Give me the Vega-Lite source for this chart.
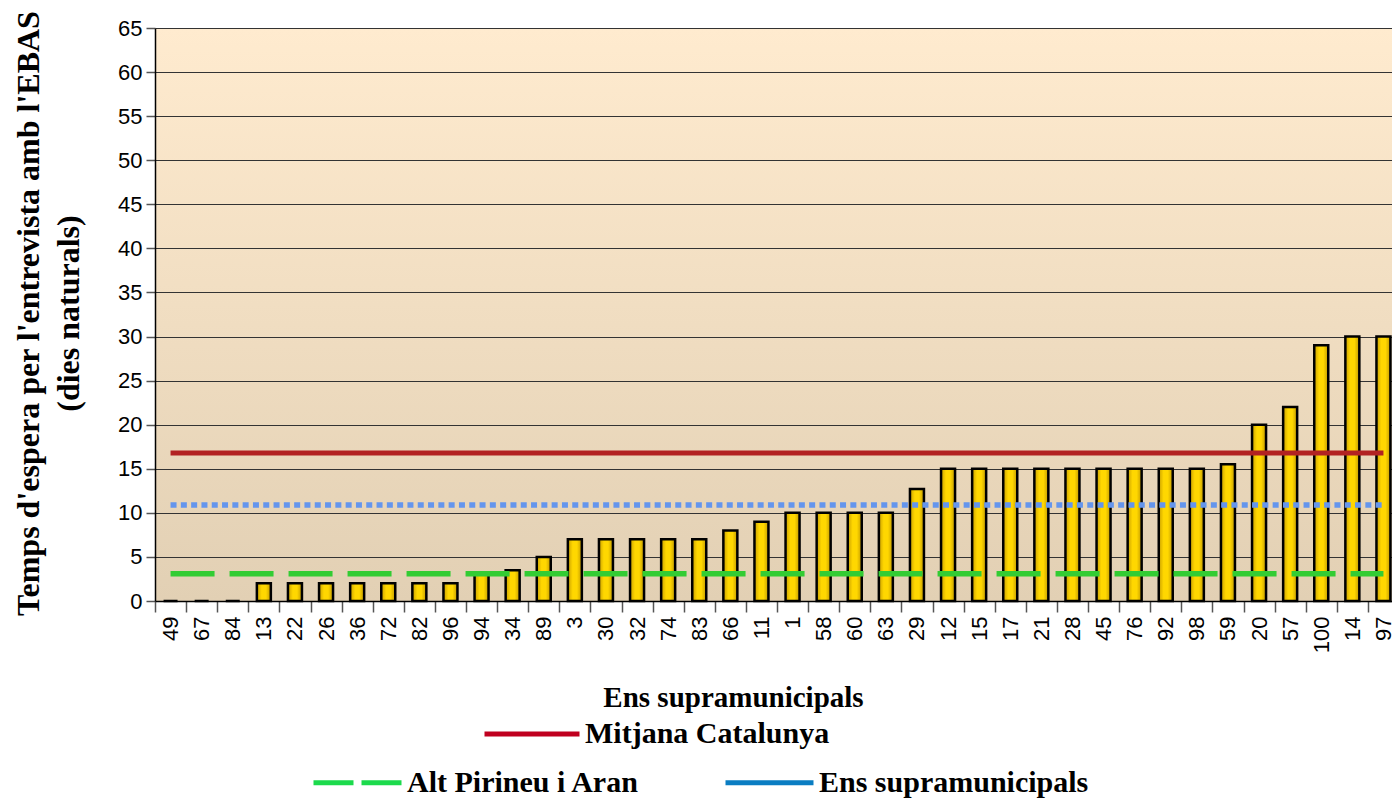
{
  "$schema": "https://vega.github.io/schema/vega-lite/v6.json",
  "autosize": "none",
  "width": 1244,
  "height": 573,
  "padding": {"left": 155, "top": 28, "right": 0, "bottom": 197},
  "background": "white",
  "config": {
    "view": {"stroke": null, "fill": {"gradient": "linear", "x1": 0, "y1": 0, "x2": 0, "y2": 1, "stops": [{"offset": 0, "color": "#FFEBCF"}, {"offset": 1, "color": "#E2D0B4"}]}},
    "axis": {"labelFont": "Liberation Sans", "labelFontSize": 22, "labelColor": "#000", "titleFont": "Liberation Serif", "titleFontWeight": "bold", "titleColor": "#000", "domainColor": "#000", "domainWidth": 1.5, "tickColor": "#555", "tickWidth": 1.5},
    "legend": {"labelFont": "Liberation Serif", "labelFontWeight": "bold", "labelFontSize": 30, "labelColor": "#000", "padding": 0, "symbolType": "stroke", "symbolStrokeWidth": 5, "symbolSize": 7744, "labelOffset": 3, "titlePadding": 0, "labelLimit": 400}
  },
  "datasets": {
    "bars": [
      {"ens": "49", "dies": 0}, {"ens": "67", "dies": 0}, {"ens": "84", "dies": 0},
      {"ens": "13", "dies": 2}, {"ens": "22", "dies": 2}, {"ens": "26", "dies": 2},
      {"ens": "36", "dies": 2}, {"ens": "72", "dies": 2}, {"ens": "82", "dies": 2},
      {"ens": "96", "dies": 2}, {"ens": "94", "dies": 3}, {"ens": "34", "dies": 3.5},
      {"ens": "89", "dies": 5}, {"ens": "3", "dies": 7}, {"ens": "30", "dies": 7},
      {"ens": "32", "dies": 7}, {"ens": "74", "dies": 7}, {"ens": "83", "dies": 7},
      {"ens": "66", "dies": 8}, {"ens": "11", "dies": 9}, {"ens": "1", "dies": 10},
      {"ens": "58", "dies": 10}, {"ens": "60", "dies": 10}, {"ens": "63", "dies": 10},
      {"ens": "29", "dies": 12.7}, {"ens": "12", "dies": 15}, {"ens": "15", "dies": 15},
      {"ens": "17", "dies": 15}, {"ens": "21", "dies": 15}, {"ens": "28", "dies": 15},
      {"ens": "45", "dies": 15}, {"ens": "76", "dies": 15}, {"ens": "92", "dies": 15},
      {"ens": "98", "dies": 15}, {"ens": "59", "dies": 15.5}, {"ens": "20", "dies": 20},
      {"ens": "57", "dies": 22}, {"ens": "100", "dies": 29}, {"ens": "14", "dies": 30},
      {"ens": "97", "dies": 30}
    ],
    "lines": [
      {"serie": "Mitjana Catalunya", "ens": "49", "dies": 16.8},
      {"serie": "Mitjana Catalunya", "ens": "97", "dies": 16.8},
      {"serie": "Alt Pirineu i Aran", "ens": "49", "dies": 3.1},
      {"serie": "Alt Pirineu i Aran", "ens": "97", "dies": 3.1},
      {"serie": "Ens supramunicipals", "ens": "49", "dies": 10.9},
      {"serie": "Ens supramunicipals", "ens": "97", "dies": 10.9}
    ]
  },
  "encoding": {
    "x": {
      "field": "ens", "type": "nominal", "sort": null,
      "scale": {"domain": ["49","67","84","13","22","26","36","72","82","96","94","34","89","3","30","32","74","83","66","11","1","58","60","63","29","12","15","17","21","28","45","76","92","98","59","20","57","100","14","97"], "paddingInner": 0, "paddingOuter": 0},
      "axis": {"title": "Ens supramunicipals", "titleFontSize": 29, "titleX": 578, "titleY": 96, "titleBaseline": "middle", "titleAnchor": null, "titleAlign": "center", "labelAngle": -90, "labelAlign": "right", "labelBaseline": "middle", "labelPadding": 4, "tickBand": "extent", "tickSize": 11, "grid": false}
    },
    "y": {
      "field": "dies", "type": "quantitative",
      "scale": {"domain": [0, 65], "nice": false},
      "axis": {"title": ["Temps d'espera per l'entrevista amb l'EBAS", "(dies naturals)"], "titleFontSize": 32, "titleLineHeight": 40, "titleX": -127, "titleY": 285, "titleAngle": -90, "titleAlign": "center", "titleBaseline": "middle", "values": [0,5,10,15,20,25,30,35,40,45,50,55,60,65], "tickSize": 9, "labelPadding": 4, "grid": true, "gridColor": "#333", "gridWidth": 1.2}
    }
  },
  "resolve": {"scale": {"color": "independent"}, "legend": {"color": "independent"}},
  "layer": [
    {
      "data": {"name": "bars"},
      "mark": {"type": "bar", "width": {"band": 0.45}, "stroke": "#000", "strokeWidth": 2.5, "fill": {"gradient": "linear", "x1": 0, "y1": 0, "x2": 1, "y2": 0, "stops": [{"offset": 0, "color": "#C9A000"}, {"offset": 0.35, "color": "#FFD700"}, {"offset": 0.65, "color": "#FFD700"}, {"offset": 1, "color": "#C29A00"}]}}
    },
    {
      "data": {"name": "lines"},
      "transform": [{"filter": "datum.serie === 'Mitjana Catalunya'"}],
      "mark": {"type": "line", "strokeWidth": 5, "strokeCap": "butt", "color": "#B22222"},
      "encoding": {}
    },
    {
      "data": {"name": "lines"},
      "transform": [{"filter": "datum.serie === 'Alt Pirineu i Aran'"}],
      "mark": {"type": "line", "strokeWidth": 5.5, "strokeCap": "butt", "strokeDash": [44, 15], "color": "#33CC33"},
      "encoding": {}
    },
    {
      "data": {"name": "lines"},
      "transform": [{"filter": "datum.serie === 'Ens supramunicipals'"}],
      "mark": {"type": "line", "strokeWidth": 5.5, "strokeCap": "butt", "strokeDash": [6, 4.3], "color": "#6495ED"},
      "encoding": {}
    },
    {
      "data": {"name": "lines"},
      "transform": [{"filter": "datum.serie === 'Mitjana Catalunya' && datum.ens === '49'"}],
      "mark": {"type": "line", "strokeWidth": 5, "strokeCap": "butt"},
      "encoding": {
        "color": {"field": "serie", "type": "nominal", "scale": {"domain": ["Mitjana Catalunya"], "range": ["#C0001F"]}, "legend": {"title": null, "orient": "none", "legendX": 327, "legendY": 656, "symbolSize": 9025}}
      }
    },
    {
      "data": {"name": "lines"},
      "transform": [{"filter": "datum.serie !== 'Mitjana Catalunya' && datum.ens === '49'"}],
      "mark": {"type": "line", "strokeWidth": 5, "strokeCap": "butt"},
      "encoding": {
        "color": {"field": "serie", "type": "nominal", "scale": {"domain": ["Alt Pirineu i Aran", "Ens supramunicipals"], "range": ["#1CDA4C", "#0A7DC2"]}, "legend": {"title": null, "orient": "none", "direction": "horizontal", "legendX": 156, "legendY": 708, "columnPadding": 75, "encode": {"symbols": {"update": {"strokeDash": {"signal": "datum.value === 'Alt Pirineu i Aran' ? [40, 8] : [1, 0]"}}}}}}
      }
    }
  ]
}
